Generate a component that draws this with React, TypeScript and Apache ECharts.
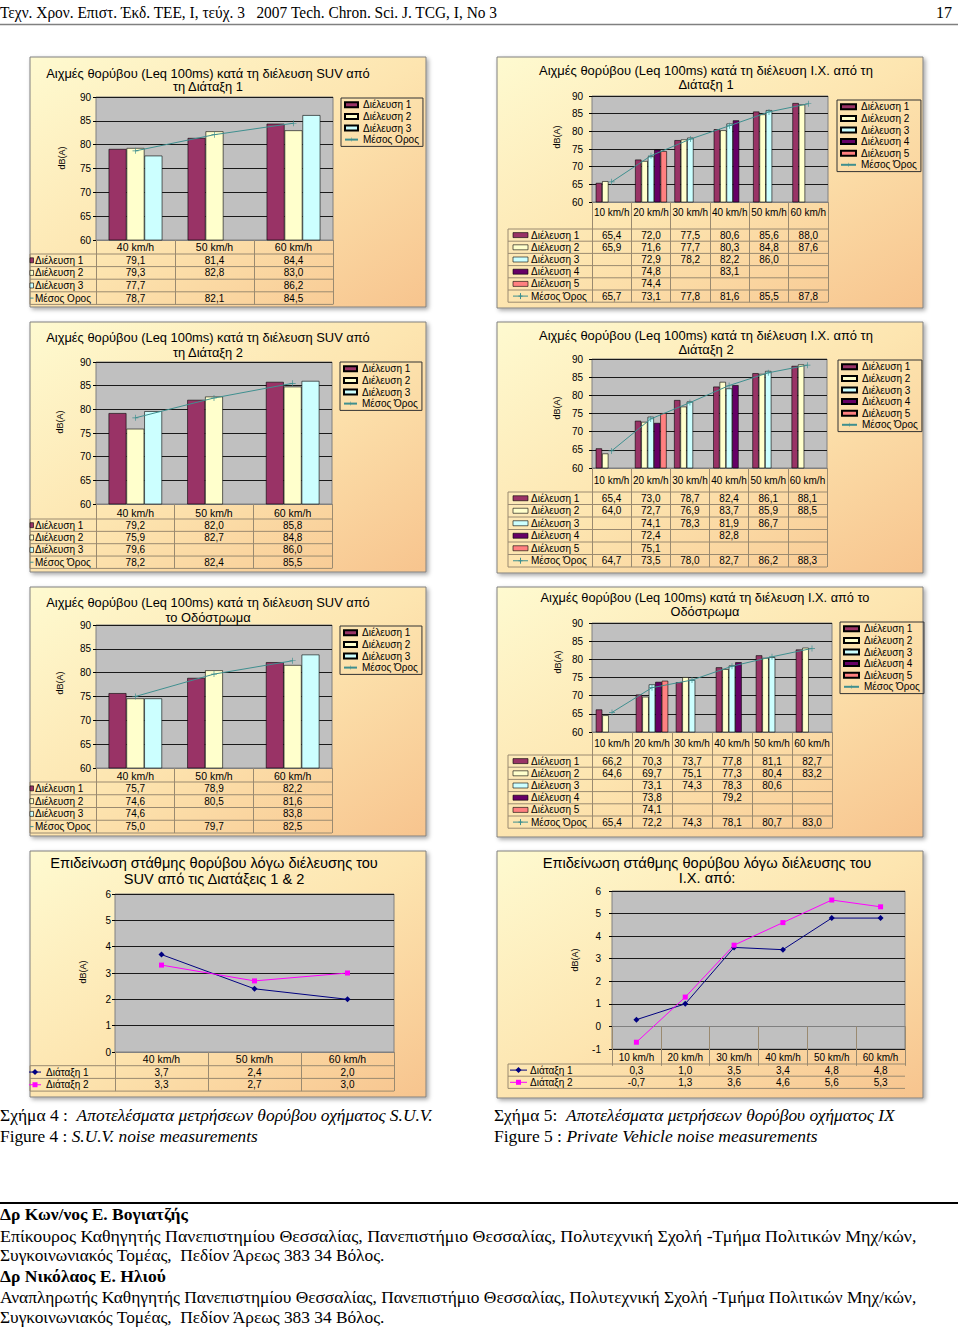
import React, { useEffect, useRef } from 'react';
import * as echarts from 'echarts';

// ===================== DATA =====================
const suvSpeeds = ['40 km/h', '50 km/h', '60 km/h'];
const ixSpeeds = ['10 km/h', '20 km/h', '30 km/h', '40 km/h', '50 km/h', '60 km/h'];
const passNames = ['Διέλευση 1', 'Διέλευση 2', 'Διέλευση 3', 'Διέλευση 4', 'Διέλευση 5'];
const layoutNames = ['Διάταξη 1', 'Διάταξη 2'];
const meanNamePlain = 'Μέσος Ορος';
const meanNameAcc = 'Μέσος Όρος';

// SUV – Διάταξη 1
const suvL1Pass1 = [79.1, 81.4, 84.4];
const suvL1Pass2 = [79.3, 82.8, 83.0];
const suvL1Pass3 = [77.7, null, 86.2];
const suvL1Mean = [78.7, 82.1, 84.5];
// SUV – Διάταξη 2
const suvL2Pass1 = [79.2, 82.0, 85.8];
const suvL2Pass2 = [75.9, 82.7, 84.8];
const suvL2Pass3 = [79.6, null, 86.0];
const suvL2Mean = [78.2, 82.4, 85.5];
// SUV – Οδόστρωμα
const suvRoadPass1 = [75.7, 78.9, 82.2];
const suvRoadPass2 = [74.6, 80.5, 81.6];
const suvRoadPass3 = [74.6, null, 83.8];
const suvRoadMean = [75.0, 79.7, 82.5];
// Ι.Χ. – Διάταξη 1
const ixL1Pass1 = [65.4, 72.0, 77.5, 80.6, 85.6, 88.0];
const ixL1Pass2 = [65.9, 71.6, 77.7, 80.3, 84.8, 87.6];
const ixL1Pass3 = [null, 72.9, 78.2, 82.2, 86.0, null];
const ixL1Pass4 = [null, 74.8, null, 83.1, null, null];
const ixL1Pass5 = [null, 74.4, null, null, null, null];
const ixL1Mean = [65.7, 73.1, 77.8, 81.6, 85.5, 87.8];
// Ι.Χ. – Διάταξη 2
const ixL2Pass1 = [65.4, 73.0, 78.7, 82.4, 86.1, 88.1];
const ixL2Pass2 = [64.0, 72.7, 76.9, 83.7, 85.9, 88.5];
const ixL2Pass3 = [null, 74.1, 78.3, 81.9, 86.7, null];
const ixL2Pass4 = [null, 72.4, null, 82.8, null, null];
const ixL2Pass5 = [null, 75.1, null, null, null, null];
const ixL2Mean = [64.7, 73.5, 78.0, 82.7, 86.2, 88.3];
// Ι.Χ. – Οδόστρωμα
const ixRoadPass1 = [66.2, 70.3, 73.7, 77.8, 81.1, 82.7];
const ixRoadPass2 = [64.6, 69.7, 75.1, 77.3, 80.4, 83.2];
const ixRoadPass3 = [null, 73.1, 74.3, 78.3, 80.6, null];
const ixRoadPass4 = [null, 73.8, null, 79.2, null, null];
const ixRoadPass5 = [null, 74.1, null, null, null, null];
const ixRoadMean = [65.4, 72.2, 74.3, 78.1, 80.7, 83.0];
// Επιδείνωση στάθμης
const suvIncL1 = [3.7, 2.4, 2.0];
const suvIncL2 = [3.3, 2.7, 3.0];
const ixIncL1 = [0.3, 1.0, 3.5, 3.4, 4.8, 4.8];
const ixIncL2 = [-0.7, 1.3, 3.6, 4.6, 5.6, 5.3];

// axis ranges [min, max, step]
const peakAxis = [60, 90, 5];
const suvIncAxis = [0, 6, 1];
const ixIncAxis = [-1, 6, 1];

// ===================== STYLE =====================
const FONT = '"Liberation Sans", Arial, sans-serif';
const SERIF = '"Liberation Serif", "Times New Roman", serif';
const C_PASS = ['#993366', '#FFFFCC', '#CCFFFF', '#660066', '#FF8080'];
const C_MEAN = '#3f8f8f';
const C_L1 = '#000080';
const C_L2 = '#FF00FF';
const TABLE = '#9a8a70';
const PLUS = 'path://M4,0L5,0L5,9L4,9Z M0,4L9,4L9,5L0,5Z';

type Row = { name: string; data: (number | null)[]; kind: 'bar' | 'mean' | 'diamond' | 'square'; color: string };

function barRows(passes: (number | null)[][], meanName: string, mean: number[]): Row[] {
  return [
    ...passes.map((d, k) => ({ name: passNames[k], data: d, kind: 'bar' as const, color: C_PASS[k] })),
    { name: meanName, data: mean, kind: 'mean' as const, color: C_MEAN },
  ];
}
function lineRows(a: number[], b: number[]): Row[] {
  return [
    { name: layoutNames[0], data: a, kind: 'diamond', color: C_L1 },
    { name: layoutNames[1], data: b, kind: 'square', color: C_L2 },
  ];
}

const T_SUV = 'Αιχμές θορύβου (Leq 100ms) κατά τη διέλευση SUV από';
const T_IX = 'Αιχμές θορύβου (Leq 100ms) κατά τη διέλευση Ι.Χ. από τη';
const T_IX2 = 'Αιχμές θορύβου (Leq 100ms) κατά τη διέλευση Ι.Χ. από το';
const T_INC = 'Επιδείνωση στάθμης θορύβου λόγω διέλευσης του';

const LEFT_T = { tableLeft: 30, keyX: 30, keyW: 3.5, labelX: 35, catGap: '32%', yMargin: 5, catFont: 10.5 };
const RIGHT_T = { tableLeft: 508, keyX: 513, keyW: 15, labelX: 531, catGap: '19%', yMargin: 9, catFont: 10 };

const defs: any[] = [
  { ...LEFT_T, title: [T_SUV, 'τη Διάταξη 1'], titleX: 208, titleY: [73, 86], titleW: 324, cats: suvSpeeds,
    rows: barRows([suvL1Pass1, suvL1Pass2, suvL1Pass3], meanNamePlain, suvL1Mean), axis: peakAxis,
    panel: [30, 57, 396, 250], plot: [96, 97, 333, 240], catMargin: 7, rowsTop: 254, rowH: 12.6,
    legend: [341, 98], dbA: [62, 158] },
  { ...LEFT_T, title: [T_SUV, 'τη Διάταξη 2'], titleX: 208, titleY: [337, 352], titleW: 324, cats: suvSpeeds,
    rows: barRows([suvL2Pass1, suvL2Pass2, suvL2Pass3], meanNameAcc, suvL2Mean), axis: peakAxis,
    panel: [30, 322, 396, 250], plot: [96, 362, 332, 504], catMargin: 8.5, rowsTop: 519, rowH: 12.35,
    legend: [340, 362], dbA: [60, 422] },
  { ...LEFT_T, title: [T_SUV, 'το Οδόστρωμα'], titleX: 208, titleY: [602, 617], titleW: 324, cats: suvSpeeds,
    rows: barRows([suvRoadPass1, suvRoadPass2, suvRoadPass3], meanNameAcc, suvRoadMean), axis: peakAxis,
    panel: [30, 587, 396, 249], plot: [96, 625, 332, 768], catMargin: 8, rowsTop: 782, rowH: 12.75,
    legend: [340, 626], dbA: [60, 683] },
  { ...RIGHT_T, title: [T_IX, 'Διάταξη 1'], titleX: 706, titleY: [70, 84], titleW: 334, cats: ixSpeeds,
    rows: barRows([ixL1Pass1, ixL1Pass2, ixL1Pass3, ixL1Pass4, ixL1Pass5], meanNameAcc, ixL1Mean), axis: peakAxis,
    panel: [497, 57, 426, 251], plot: [592, 96, 828, 202], catMargin: 10, rowsTop: 229, rowH: 12.2,
    legend: [837, 100], dbA: [557, 137] },
  { ...RIGHT_T, title: [T_IX, 'Διάταξη 2'], titleX: 706, titleY: [335, 349], titleW: 334, cats: ixSpeeds,
    rows: barRows([ixL2Pass1, ixL2Pass2, ixL2Pass3, ixL2Pass4, ixL2Pass5], meanNameAcc, ixL2Mean), axis: peakAxis,
    panel: [497, 322, 426, 251], plot: [592, 359, 827, 468], catMargin: 12, rowsTop: 492, rowH: 12.5,
    legend: [838, 360], dbA: [557, 408] },
  { ...RIGHT_T, title: [T_IX2, 'Οδόστρωμα'], titleX: 705, titleY: [597, 611], titleW: 329, cats: ixSpeeds,
    rows: barRows([ixRoadPass1, ixRoadPass2, ixRoadPass3, ixRoadPass4, ixRoadPass5], meanNameAcc, ixRoadMean), axis: peakAxis,
    panel: [497, 587, 426, 250], plot: [592, 623, 832, 732], catMargin: 11, rowsTop: 755, rowH: 12.2,
    legend: [840, 622], dbA: [558, 662] },
  { title: [T_INC, 'SUV από τις Διατάξεις 1 & 2'], titleX: 214, titleY: [863, 879], titleW: 328, cats: suvSpeeds,
    rows: lineRows(suvIncL1, suvIncL2), axis: suvIncAxis,
    panel: [30, 851, 396, 246], plot: [115, 894, 394, 1052], yMargin: 4, catMargin: 6.5, catFont: 10.5,
    rowsTop: 1065.7, rowH: 12.7, tableLeft: 30, keyX: 29, keyW: 12, labelX: 46, legend: null, dbA: [83, 972] },
  { title: [T_INC, 'Ι.Χ. από:'], titleX: 707, titleY: [863, 878], titleW: 329, cats: ixSpeeds,
    rows: lineRows(ixIncL1, ixIncL2), axis: ixIncAxis,
    panel: [497, 851, 426, 247], plot: [612, 891, 905, 1049], yMargin: 11, catMargin: 8.7, catFont: 10,
    rowsTop: 1064, rowH: 12.2, tableLeft: 508, keyX: 510, keyW: 17, labelX: 530, legend: null, dbA: [575, 960] },
];

// ===================== HELPERS =====================
let _ctx: CanvasRenderingContext2D | null = null;
function measure(text: string, font: string): number {
  if (!_ctx) _ctx = document.createElement('canvas').getContext('2d');
  if (!_ctx) return text.length * 6;
  _ctx.font = font;
  return _ctx.measureText(text).width;
}
const fmt = (v: number) => v.toFixed(1).replace('.', ',');

function txt(x: number, y: number, text: string, o: any = {}) {
  const align = o.align || 'left';
  return {
    type: 'text', x, y, z: o.z ?? 20, silent: true,
    rotation: o.rotation || 0, scaleX: o.scaleX || 1,
    style: {
      text, fill: '#000', fontFamily: o.family || FONT, fontSize: o.size || 10,
      fontWeight: o.weight || 'normal', fontStyle: o.style || 'normal',
      align, verticalAlign: 'middle', textAlign: align, textVerticalAlign: 'middle',
      rich: o.rich,
    },
  };
}
function ln(x1: number, y1: number, x2: number, y2: number, stroke: string, w = 1, z = 15) {
  return { type: 'line', silent: true, z, shape: { x1, y1, x2, y2 }, style: { stroke, lineWidth: w } };
}

function buildOption() {
  const grid: any[] = [], xAxis: any[] = [], yAxis: any[] = [], series: any[] = [], legend: any[] = [], els: any[] = [];

  defs.forEach((d, i) => {
    const [pl, pt, pr, pb] = d.plot;
    const n = d.cats.length;
    const catW = (pr - pl) / n;
    const tableBottom = d.rowsTop + d.rows.length * d.rowH;

    grid.push({ left: pl, top: pt, width: pr - pl, height: pb - pt, show: true, backgroundColor: '#c0c0c0', borderColor: '#808080', borderWidth: 1 });
    xAxis.push({
      type: 'category', gridIndex: i, data: d.cats, boundaryGap: true,
      axisLine: { show: true, lineStyle: { color: '#808080', width: 1 } },
      axisTick: { show: true, length: tableBottom - pb, lineStyle: { color: TABLE, width: 1 } },
      axisLabel: { interval: 0, margin: d.catMargin, verticalAlign: 'middle', fontSize: d.catFont, color: '#000', fontFamily: FONT },
      splitLine: { show: false },
    });
    yAxis.push({
      type: 'value', gridIndex: i, min: d.axis[0], max: d.axis[1], interval: d.axis[2],
      axisLine: { show: false },
      axisTick: { show: true, length: 3, lineStyle: { color: '#000' } },
      axisLabel: { margin: d.yMargin, fontSize: 10, color: '#000', fontFamily: FONT },
      splitLine: { show: true, lineStyle: { color: '#1a1a1a', width: 1 } },
    });

    d.rows.forEach((r: Row) => {
      if (r.kind === 'bar') {
        series.push({ type: 'bar', name: r.name, xAxisIndex: i, yAxisIndex: i, data: r.data,
          barGap: '0%', barCategoryGap: d.catGap, silent: true,
          itemStyle: { color: r.color, borderColor: '#000', borderWidth: 0.6 } });
      } else if (r.kind === 'mean') {
        series.push({ type: 'line', name: r.name, xAxisIndex: i, yAxisIndex: i, data: r.data, z: 5, silent: true,
          symbol: PLUS, symbolSize: 6, lineStyle: { color: r.color, width: 1 }, itemStyle: { color: r.color } });
      } else {
        series.push({ type: 'line', name: r.name, xAxisIndex: i, yAxisIndex: i, data: r.data, z: 5, silent: true,
          symbol: r.kind === 'diamond' ? 'diamond' : 'rect', symbolSize: r.kind === 'diamond' ? 6 : 5,
          lineStyle: { color: r.color, width: 1 }, itemStyle: { color: r.color } });
      }
    });

    if (d.legend) {
      legend.push({
        left: d.legend[0], top: d.legend[1], orient: 'vertical', selectedMode: false,
        itemWidth: i < 3 ? 13 : 15, itemHeight: 5, itemGap: 0, padding: [1, 4, 1, 3],
        borderColor: '#333', borderWidth: 1, backgroundColor: 'transparent',
        textStyle: { fontSize: 10, lineHeight: 11.6, fontFamily: FONT, color: '#000' },
        data: d.rows.map((r: Row) => (r.kind === 'bar' ? { name: r.name, icon: 'rect' } : { name: r.name })),
      });
    }

    // panel background
    const [px, py, pw, ph] = d.panel;
    els.push({ type: 'rect', z: -10, silent: true, shape: { x: px, y: py, width: pw, height: ph },
      style: { fill: new echarts.graphic.LinearGradient(0, 0, 1, 1, [
        { offset: 0, color: '#fefad0' }, { offset: 0.5, color: '#fde5b0' }, { offset: 1, color: '#f7c48e' }]),
        stroke: '#808080', lineWidth: 1, shadowBlur: 4, shadowOffsetX: 2, shadowOffsetY: 2, shadowColor: 'rgba(0,0,0,0.35)' } });

    // title
    const fs = 12 * d.titleW / measure(d.title[0], `12px ${FONT}`);
    els.push(txt(d.titleX, d.titleY[0], d.title[0], { align: 'center', size: fs }));
    els.push(txt(d.titleX, d.titleY[1], d.title[1], { align: 'center', size: fs }));
    // axis title
    els.push(txt(d.dbA[0], d.dbA[1], 'dB(A)', { align: 'center', size: 9, rotation: Math.PI / 2 }));

    // data table
    for (let k = 0; k <= d.rows.length; k++) {
      const y = d.rowsTop + k * d.rowH;
      els.push(ln(d.tableLeft, y, pr, y, TABLE));
    }
    els.push(ln(d.tableLeft, d.rowsTop, d.tableLeft, tableBottom, TABLE));
    d.rows.forEach((r: Row, k: number) => {
      const cy = d.rowsTop + (k + 0.5) * d.rowH;
      const mx = d.keyX + d.keyW / 2;
      if (r.kind === 'bar') {
        els.push({ type: 'rect', z: 16, silent: true, shape: { x: d.keyX, y: cy - 2.5, width: d.keyW, height: 5 },
          style: { fill: r.color, stroke: '#000', lineWidth: 0.6 } });
      } else {
        els.push(ln(d.keyX, cy, d.keyX + d.keyW, cy, r.color, 1, 16));
        if (r.kind === 'mean' && d.keyW > 8) {
          els.push(ln(mx, cy - 3, mx, cy + 3, r.color, 1, 16));
          els.push(ln(mx - 2, cy, mx + 2, cy, r.color, 1, 16));
        } else if (r.kind === 'diamond') {
          els.push({ type: 'polygon', z: 16, silent: true, shape: { points: [[mx, cy - 3], [mx + 3, cy], [mx, cy + 3], [mx - 3, cy]] }, style: { fill: r.color } });
        } else if (r.kind === 'square') {
          els.push({ type: 'rect', z: 16, silent: true, shape: { x: mx - 2.5, y: cy - 2.5, width: 5, height: 5 }, style: { fill: r.color } });
        }
      }
      els.push(txt(d.labelX, cy, r.name, { size: 10 }));
      r.data.forEach((v, j) => {
        if (v === null || v === undefined) return;
        els.push(txt(pl + (j + 0.5) * catW, cy, fmt(v), { align: 'center', size: 10 }));
      });
    });
  });

  // ---- page texts ----
  const hdr = 'Τεχν. Χρον. Επιστ. Έκδ. ΤΕΕ, Ι, τεύχ. 3   2007 Tech. Chron. Sci. J. TCG, I, No 3';
  els.push(txt(0, 12, hdr, { family: SERIF, size: 16, scaleX: 498 / measure(hdr, `16px ${SERIF}`) }));
  els.push(txt(952, 12, '17', { family: SERIF, size: 16, align: 'right' }));
  els.push(ln(0, 24.5, 958, 24.5, '#808080', 1.5));

  const cap = (x: number, y: number, a: string, b: string, target: number) => {
    const w = measure(a, `17px ${SERIF}`) + measure(b, `italic 17px ${SERIF}`);
    return txt(x, y, `{n|${a}}{i|${b}}`, {
      family: SERIF, size: 17, scaleX: target / w,
      rich: { n: { fontFamily: SERIF, fontSize: 17, fill: '#000' }, i: { fontFamily: SERIF, fontSize: 17, fontStyle: 'italic', fill: '#000' } },
    });
  };
  els.push(cap(0, 1116, 'Σχήμα 4 :  ', 'Αποτελέσματα μετρήσεων θορύβου οχήματος S.U.V.', 433));
  els.push(cap(0, 1137, 'Figure 4 : ', 'S.U.V. noise measurements', 258));
  els.push(cap(494, 1116, 'Σχήμα 5:  ', 'Αποτελέσματα μετρήσεων θορύβου οχήματος IX', 401));
  els.push(cap(494, 1137, 'Figure 5 : ', 'Private Vehicle noise measurements', 324));

  els.push(ln(0, 1203, 958, 1203, '#000', 2));
  const body: [string, number, number, boolean][] = [
    ['Δρ Κων/νος Ε. Βογιατζής', 1215, 188, true],
    ['Επίκουρος Καθηγητής Πανεπιστημίου Θεσσαλίας, Πανεπιστήμιο Θεσσαλίας, Πολυτεχνική Σχολή -Τμήμα Πολιτικών Μηχ/κών,', 1236, 917, false],
    ['Συγκοινωνιακός Τομέας,  Πεδίον Άρεως 383 34 Βόλος.', 1256, 386, false],
    ['Δρ Νικόλαος Ε. Ηλιού', 1277, 166, true],
    ['Αναπληρωτής Καθηγητής Πανεπιστημίου Θεσσαλίας, Πανεπιστήμιο Θεσσαλίας, Πολυτεχνική Σχολή -Τμήμα Πολιτικών Μηχ/κών,', 1298, 917, false],
    ['Συγκοινωνιακός Τομέας,  Πεδίον Άρεως 383 34 Βόλος.', 1318, 386, false],
  ];
  body.forEach(([t, y, w, b]) => {
    const f = `${b ? 'bold ' : ''}17px ${SERIF}`;
    els.push(txt(0, y, t, { family: SERIF, size: 17, weight: b ? 'bold' : 'normal', scaleX: w / measure(t, f) }));
  });

  return {
    animation: false,
    backgroundColor: '#ffffff',
    grid, xAxis, yAxis, series, legend,
    graphic: { elements: els },
  };
}

export default function App() {
  const ref = useRef<HTMLDivElement>(null);
  useEffect(() => {
    if (!ref.current) return;
    const chart = echarts.init(ref.current, undefined, { renderer: 'svg', width: 960, height: 1330 });
    chart.setOption(buildOption() as any);
    return () => chart.dispose();
  }, []);
  return <div ref={ref} style={{ position: 'absolute', left: 0, top: 0, width: 960, height: 1330 }} />;
}
